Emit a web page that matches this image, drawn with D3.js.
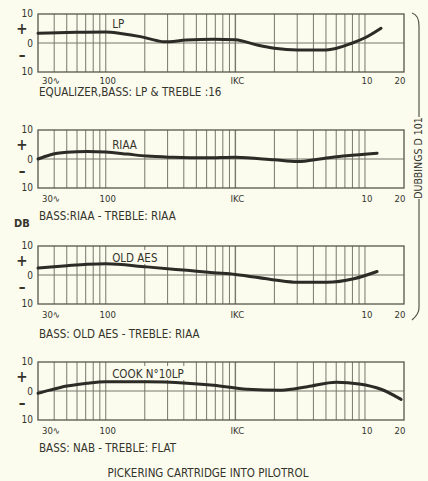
<!DOCTYPE html>
<html>
    <head>
        <meta charset="utf-8" />
        <title>Pickering cartridge into Pilotrol</title>
        <script src="https://d3js.org/d3.v7.min.js"></script>
        <style>
            body {
                margin: 0px;
                background: #fbfbee;
            }
            text {
                font-family: "DejaVu Sans Condensed", "Liberation Sans Narrow", sans-serif;
                fill: #34342c;
            }
        </style>
    </head>
    <body>
        <svg id="chart"></svg>
        <script>

        // response curves, freq in c/s, level in dB
        var lpFreq = [30, 50, 100, 130, 185, 250, 280, 420, 680, 1000, 1500, 2000, 3000, 5000, 8000, 10000, 13300];
        var lpDb   = [3.4, 3.6, 3.8, 3.3, 2.2, 0.8, 0.4, 1.0, 1.3, 1.1, -0.8, -1.8, -2.4, -2.4, 0.0, 1.8, 5.1];

        var riaaFreq = [30, 37, 50, 72, 100, 146, 207, 330, 600, 1000, 2000, 3000, 4800, 7200, 12400];
        var riaaDb   = [0.0, 1.4, 2.3, 2.6, 2.4, 1.7, 1.0, 0.6, 0.4, 0.6, -0.3, -0.9, 0.2, 1.1, 2.0];

        var aesFreq = [30, 50, 72, 100, 207, 424, 680, 1000, 2000, 3000, 5100, 8200, 12400];
        var aesDb   = [2.4, 3.2, 3.7, 3.9, 2.8, 1.6, 0.8, 0.2, -1.7, -2.5, -2.5, -1.3, 1.2];

        var cookFreq = [30, 37, 50, 72, 100, 207, 424, 680, 1230, 2270, 3600, 6000, 9000, 13300, 19000];
        var cookDb   = [-0.8, 0.3, 1.7, 2.7, 3.2, 3.2, 2.7, 2.0, 0.6, 0.3, 1.5, 3.0, 2.4, 0.6, -2.9];

        var curveNames = ["LP", "RIAA", "OLD AES", "COOK N\u00b010LP"];
        var captions = [
            "EQUALIZER,BASS: LP & TREBLE :16",
            "BASS:RIAA - TREBLE: RIAA",
            "BASS: OLD AES - TREBLE: RIAA",
            "BASS: NAB - TREBLE: FLAT"
        ];

        var tickFreqs = [30, 100, 1000, 10000, 20000];
        var tickLabels = ["30\u223f", "100", "IKC", "10", "20"];
        var gridFreqs = [40, 50, 60, 70, 80, 90, 100, 200, 300, 400, 500, 600, 700, 800, 900,
                         1000, 2000, 3000, 4000, 5000, 6000, 7000, 8000, 9000, 10000];

        var series = [
            {freq: lpFreq, db: lpDb},
            {freq: riaaFreq, db: riaaDb},
            {freq: aesFreq, db: aesDb},
            {freq: cookFreq, db: cookDb}
        ];

        var width = 428;
        var height = 481;
        var panelTops = [14, 130, 246, 362];
        var panelHeight = 58;
        var captionOffset = [82, 90, 92, 90];
        var nameOffset = [14, 19, 16, 16];
        var bg = "#fbfbee";

        var svg = d3.select("#chart")
            .attr("width", width)
            .attr("height", height);

        var x = d3.scaleLog()
            .domain([30, 20000])
            .range([38, 404]);

        var ink = "#2c2c26";
        var gridInk = "#77776c";

        series.forEach(function(s, i) {
            var top = panelTops[i];
            var y = d3.scaleLinear()
                .domain([-10, 10])
                .range([top + panelHeight, top]);

            var g = svg.append("g").attr("class", "panel");

            // vertical grid
            g.selectAll(".vgrid")
                .data(gridFreqs)
                .enter().append("line")
                .attr("class", "vgrid")
                .attr("x1", function(d) { return x(d); })
                .attr("x2", function(d) { return x(d); })
                .attr("y1", y(10))
                .attr("y2", y(-10))
                .attr("stroke", gridInk)
                .attr("stroke-width", function(d) { return d === 1000 ? 1.4 : 1; });

            // zero line
            g.append("line")
                .attr("x1", x(30)).attr("x2", x(20000))
                .attr("y1", y(0)).attr("y2", y(0))
                .attr("stroke", gridInk)
                .attr("stroke-width", 1);

            // blank patch + curve name
            var patch = g.append("rect").attr("fill", bg);
            var label = g.append("text")
                .attr("x", x(112))
                .attr("y", top + nameOffset[i])
                .attr("font-size", 11.5)
                .text(curveNames[i]);
            var bb = label.node().getBBox();
            patch
                .attr("x", bb.x - 3)
                .attr("y", Math.max(bb.y - 1, top + 1))
                .attr("width", bb.width + 6)
                .attr("height", bb.height);

            // frame
            g.append("rect")
                .attr("x", x(30))
                .attr("y", y(10))
                .attr("width", x(20000) - x(30))
                .attr("height", y(-10) - y(10))
                .attr("fill", "none")
                .attr("stroke", "#55554c")
                .attr("stroke-width", 1.3);

            // y labels
            var yl = g.append("g").attr("font-size", 10);
            yl.append("text").attr("x", 33).attr("y", y(10) + 3).attr("text-anchor", "end").text("10");
            yl.append("text").attr("x", 33).attr("y", y(0) + 4).attr("text-anchor", "end").text("0");
            yl.append("text").attr("x", 33).attr("y", y(-10) + 3).attr("text-anchor", "end").text("10");
            yl.append("text").attr("x", 22).attr("y", y(5) + 5).attr("text-anchor", "middle")
                .attr("font-size", 15).attr("font-weight", "bold").text("+");
            yl.append("text").attr("x", 22).attr("y", y(-4) + 5).attr("text-anchor", "middle")
                .attr("font-size", 15).attr("font-weight", "bold").text("\u2013");

            // x labels
            g.selectAll(".xlab")
                .data(tickFreqs)
                .enter().append("text")
                .attr("class", "xlab")
                .attr("font-size", 9.5)
                .attr("x", function(d, j) {
                    if (j === 0) return x(d) + 4;
                    if (j === tickFreqs.length - 1) return x(d) - 4;
                    return x(d) + 2;
                })
                .attr("y", y(-10) + (i === 0 ? 12 : 14))
                .attr("text-anchor", function(d, j) { return j === 0 ? "start" : "middle"; })
                .text(function(d, j) { return tickLabels[j]; });

            // caption
            g.append("text")
                .attr("x", 39)
                .attr("y", top + captionOffset[i])
                .attr("font-size", 11.5)
                .text(captions[i]);

            // response curve
            var pts = s.freq.map(function(f, j) { return [f, s.db[j]]; });
            var line = d3.line()
                .x(function(d) { return x(d[0]); })
                .y(function(d) { return y(d[1]); })
                .curve(d3.curveMonotoneX);

            g.append("path")
                .datum(pts)
                .attr("d", line)
                .attr("fill", "none")
                .attr("stroke", ink)
                .attr("stroke-width", 3)
                .attr("stroke-linecap", "round");
        });

        // DB marker
        svg.append("text")
            .attr("x", 14)
            .attr("y", 227)
            .attr("font-size", 11)
            .attr("font-weight", "bold")
            .text("DB");

        // bracket on the right
        svg.append("path")
            .attr("d", "M412,13 Q419,15 419,26 L419,117")
            .attr("fill", "none")
            .attr("stroke", "#55554c")
            .attr("stroke-width", 1.2);
        svg.append("path")
            .attr("d", "M419,199 L419,308 Q419,314 412,320")
            .attr("fill", "none")
            .attr("stroke", "#55554c")
            .attr("stroke-width", 1.2);
        svg.append("text")
            .attr("transform", "translate(422,158) rotate(-90)")
            .attr("text-anchor", "middle")
            .attr("font-size", 10.5)
            .text("DUBBINGS D 101");

        // bottom title
        svg.append("text")
            .attr("x", 208)
            .attr("y", 477)
            .attr("text-anchor", "middle")
            .attr("font-size", 11.5)
            .text("PICKERING CARTRIDGE INTO PILOTROL");

        </script>
    </body>
</html>
